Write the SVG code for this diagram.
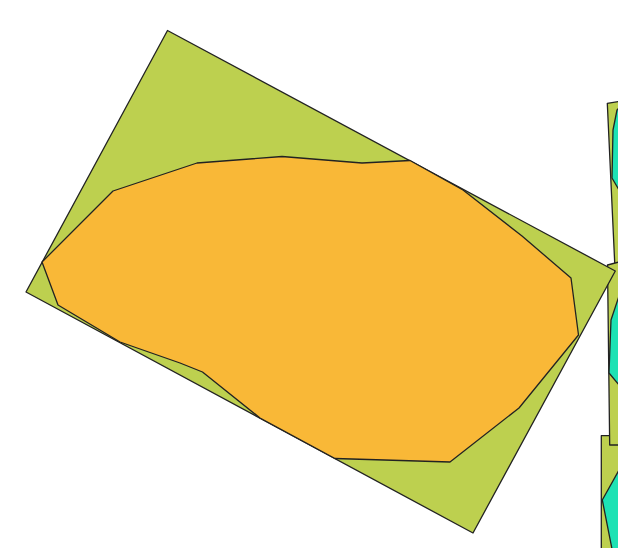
<svg xmlns="http://www.w3.org/2000/svg" width="618" height="548" viewBox="0 0 618 548">
<style>
.g{fill:#bdd04f;stroke:#222;stroke-width:1.3;stroke-linejoin:round}
.o{fill:#f9b837;stroke:#222;stroke-width:1.3;stroke-linejoin:round}
.c{fill:#1de2b4;stroke:#222;stroke-width:1.3;stroke-linejoin:round}
</style>
<rect width="618" height="548" fill="#fff"/>
<g id="sliver-top">
<polygon class="g" points="607.3,103.3 619,101.5 619,290 615.5,280"/>
<polygon class="c" points="617,110 613,130 612,178 619,190 619,108"/>
</g>
<g id="sliver-low">
<polygon class="g" points="601.3,435.7 619,435.7 619,549 601.3,549"/>
<polygon class="c" points="619,470 602.3,500 612,549 619,549"/>
</g>
<g id="sliver-mid">
<polygon class="g" points="607.5,265 619,262 619,445 609.7,445"/>
<polygon class="c" points="619,296 611,320 609,373 619,385"/>
</g>
<g id="main">
<polygon class="g" points="167.5,30.5 615.3,271 473,533 26,292"/>
<polygon class="o" points="42,262 113,191 197,163 282,156.5 362,163 410,160.5 463,190 522,236 571,278 578.5,335 519,408 450,462 335,458.5 260,418 202.5,372 180,363 120,342 58,305"/>
</g>
</svg>
